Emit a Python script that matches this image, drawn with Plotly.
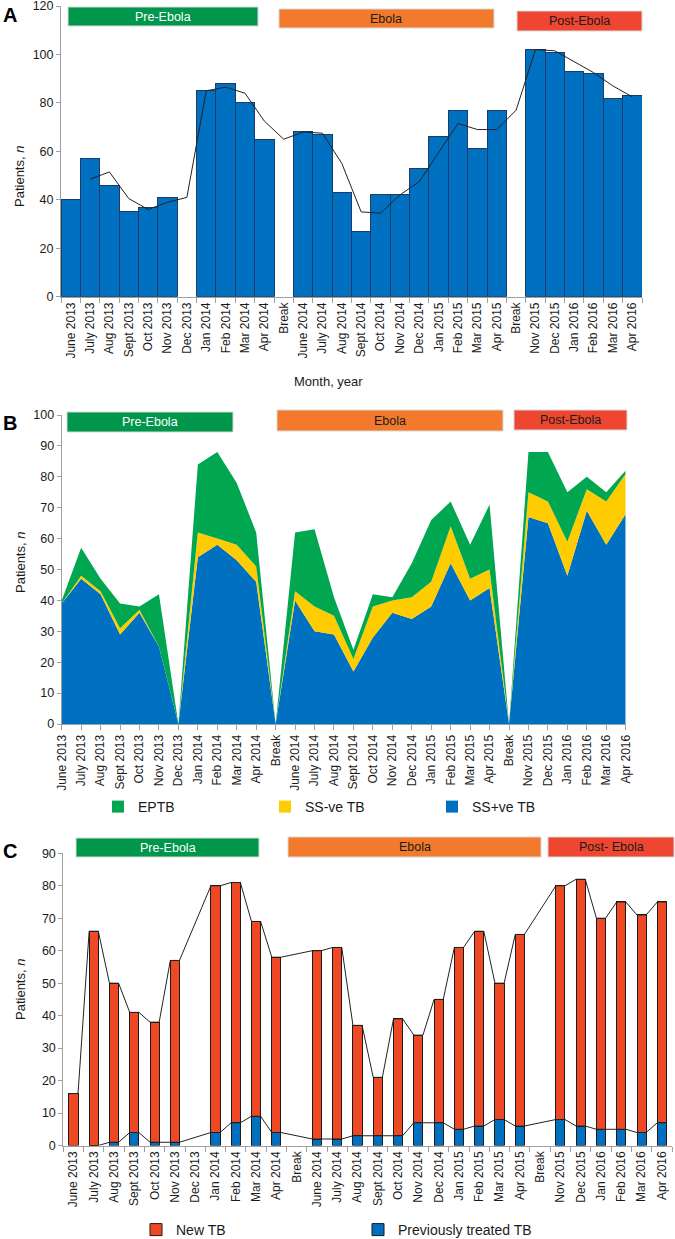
import plotly.graph_objects as go

# ---------------- data ----------------
months = ["June 2013", "July 2013", "Aug 2013", "Sept 2013", "Oct 2013", "Nov 2013", "Dec 2013",
          "Jan 2014", "Feb 2014", "Mar 2014", "Apr 2014", "Break", "June 2014", "July 2014",
          "Aug 2014", "Sept 2014", "Oct 2014", "Nov 2014", "Dec 2014", "Jan 2015", "Feb 2015",
          "Mar 2015", "Apr 2015", "Break", "Nov 2015", "Dec 2015", "Jan 2016", "Feb 2016",
          "Mar 2016", "Apr 2016"]

# Panel A: all patients per month and the trend line
patients_a = [40, 57, 46, 35, 37, 41, None, 85, 88, 80, 65, None, 68, 67, 43, 27, 42, 42, 53,
              66, 77, 61, 77, None, 102, 101, 93, 92, 82, 83]
trend_a = [None, 48.5, 51.5, 40.5, 36, 39, 41, 85, 86.5, 84, 72.5, 65, 68, 67.5, 55, 35, 34.5,
           42, 47.5, 59.5, 71.5, 69, 69, 77, 102, 101.5, 97, 92.5, 87, 82.5]

# Panel B: stacked area by TB type
ss_pos = [39, 47, 42, 29, 36, 25, 0, 54, 58, 53, 46, 0, 40, 30, 29, 17, 28, 36, 34, 38, 52, 40,
          44, 0, 67, 65, 48, 69, 58, 68]
ss_neg = [0, 1, 1, 2, 1, 0, 0, 8, 2, 5, 5, 0, 3, 8, 6, 4, 10, 4, 7, 8, 12, 7, 6, 0, 8, 7, 11, 7,
          14, 13]
eptb = [1, 9, 4, 8, 1, 17, 0, 22, 28, 20, 11, 0, 19, 25, 6, 3, 4, 1, 11, 20, 8, 11, 21, 0, 13,
        16, 16, 4, 3, 1]

# Panel C: new vs previously treated TB
prev_tb = [None, 0, 1, 4, 1, 1, None, 4, 7, 9, 4, None, 2, 2, 3, 3, 3, 7, 7, 5, 6, 8, 6, None,
           8, 6, 5, 5, 4, 7]
new_tb = [16, 66, 49, 37, 37, 56, None, 76, 74, 60, 54, None, 58, 59, 34, 18, 36, 27, 38, 56,
          60, 42, 59, None, 72, 76, 65, 70, 67, 68]

periods_ab = ["Pre-Ebola", "Ebola", "Post-Ebola"]
periods_c = ["Pre-Ebola", "Ebola", "Post- Ebola"]

ticks_a = [0, 20, 40, 60, 80, 100, 120]
ticks_b = [0, 10, 20, 30, 40, 50, 60, 70, 80, 90, 100]
ticks_c = [0, 10, 20, 30, 40, 50, 60, 70, 80, 90]

# ---------------- style ----------------
W, H = 675, 1239
FONT = "Liberation Sans, Arial, sans-serif"
TXT = "#1a1a1a"
AX = "#a0a0a0"
BLUE = "#0070C0"
YEL = "#FFCC00"
GRN = "#00A650"
RED = "#EE4824"
P_COLORS = ["#00964B", "#F37A2C", "#EE4630"]
P_TXT = ["white", TXT, TXT]
BW = 0.45


def fx(px):
    return min(1.0, max(0.0, px / W))


def fy(py):
    return min(1.0, max(0.0, 1 - py / H))


idx = list(range(len(months)))
fig = go.Figure()

# ---- Panel A ----
fig.add_trace(go.Bar(x=idx, y=patients_a, width=1,
                     marker=dict(color=BLUE, line=dict(color="#1d3b66", width=1)),
                     xaxis="x", yaxis="y", showlegend=False))
fig.add_trace(go.Scatter(x=idx, y=trend_a, mode="lines", line=dict(color="#222222", width=1),
                         xaxis="x", yaxis="y", showlegend=False))

# ---- Panel B ----
for vals, col in [(ss_pos, BLUE), (ss_neg, YEL), (eptb, GRN)]:
    fig.add_trace(go.Scatter(x=idx, y=vals, stackgroup="b", mode="lines",
                             line=dict(width=0, color=col), fillcolor=col,
                             xaxis="x2", yaxis="y2", showlegend=False))
for name, col in [("EPTB", GRN), ("SS-ve TB", YEL), ("SS+ve TB", BLUE)]:
    fig.add_trace(go.Bar(x=[None], y=[None], name=name, marker=dict(color=col, line=dict(width=0)),
                         xaxis="x2", yaxis="y2", legend="legend"))

# ---- Panel C ----
fig.add_trace(go.Bar(x=idx, y=prev_tb, width=BW, name="Previously treated TB",
                     marker=dict(color=BLUE, line=dict(color="#1a1a1a", width=1)),
                     xaxis="x3", yaxis="y3", legend="legend2"))
fig.add_trace(go.Bar(x=idx, y=new_tb, width=BW, name="New TB",
                     marker=dict(color=RED, line=dict(color="#1a1a1a", width=1)),
                     xaxis="x3", yaxis="y3", legend="legend2"))

totals_c = [None if n is None else n + (p or 0) for p, n in zip(prev_tb, new_tb)]


def series_line(vals):
    xs, ys = [], []
    for i, v in enumerate(vals):
        if v is None:
            continue
        xs += [i - BW / 2, i + BW / 2]
        ys += [v, v]
    return xs, ys


for vals in (totals_c, prev_tb):
    xs, ys = series_line(vals)
    fig.add_trace(go.Scatter(x=xs, y=ys, mode="lines", line=dict(color="#222222", width=1),
                             xaxis="x3", yaxis="y3", showlegend=False))

# ---------------- layout ----------------
tickfont_x = dict(family=FONT, size=12, color=TXT)
tickfont_y = dict(family=FONT, size=12.5, color=TXT)

common_y = dict(showline=True, linecolor=AX, linewidth=1, ticks="outside", ticklen=4,
                tickcolor=AX, showgrid=False, zeroline=False, tickfont=tickfont_y,
                automargin=False, tickmode="array", ticklabeloverflow="allow")
common_x = dict(showline=True, linecolor=AX, linewidth=1, showgrid=False, zeroline=False,
                tickmode="array", tickvals=idx, ticktext=months, tickangle=-90,
                tickfont=tickfont_x, automargin=False, ticklabeloverflow="allow")

fig.update_layout(
    template="none",
    width=W, height=H,
    margin=dict(l=0, r=0, t=0, b=0, autoexpand=False),
    paper_bgcolor="white", plot_bgcolor="white",
    barmode="stack",
    font=dict(family=FONT, color=TXT),
    xaxis=dict(domain=[fx(61), fx(642)], anchor="y", range=[-0.5, 29.5], ticks="",
               minor=dict(tick0=-0.5, dtick=1, ticks="outside", ticklen=5, tickcolor=AX),
               **common_x),
    yaxis=dict(domain=[fy(296.7), fy(6)], anchor="x", range=[0, 120], tickvals=ticks_a,
               **common_y),
    xaxis2=dict(domain=[fx(61.7), fx(625.7)], anchor="y2", range=[0, 29], ticks="outside",
                ticklen=5, tickcolor=AX, **common_x),
    yaxis2=dict(domain=[fy(724), fy(415)], anchor="x2", range=[0, 100], tickvals=ticks_b,
                **common_y),
    xaxis3=dict(domain=[fx(63.3), fx(672)], anchor="y3", range=[-0.5, 29.5], ticks="",
                minor=dict(tick0=-0.5, dtick=1, ticks="outside", ticklen=5, tickcolor=AX),
                **common_x),
    yaxis3=dict(domain=[fy(1145.5), fy(853.3)], anchor="x3", range=[0, 90], tickvals=ticks_c,
                **common_y),
    legend=dict(orientation="h", x=fx(98), y=fy(807), xanchor="left", yanchor="middle",
                entrywidth=122, traceorder="normal", bgcolor="rgba(0,0,0,0)",
                font=dict(family=FONT, size=14, color=TXT)),
    legend2=dict(orientation="h", x=fx(136), y=fy(1230), xanchor="left", yanchor="middle",
                 entrywidth=177, traceorder="reversed", bgcolor="rgba(0,0,0,0)",
                 font=dict(family=FONT, size=14, color=TXT)),
)

shapes = []
annotations = []

# period boxes (pixel boxes: x0, x1, y0, y1)
boxes = [
    (periods_ab, [(68, 258, 7, 26), (279, 494, 9, 28), (517, 642, 11, 31)]),
    (periods_ab, [(67, 233, 412, 432), (277, 503, 410, 431), (514, 627, 410, 430)]),
    (periods_c, [(76, 259, 838, 857), (288, 541, 837, 857), (548, 674, 837, 857)]),
]
for names, rects in boxes:
    for k, (name, (x0, x1, y0, y1)) in enumerate(zip(names, rects)):
        shapes.append(dict(type="rect", xref="paper", yref="paper", x0=fx(x0), x1=fx(x1),
                           y0=fy(y1), y1=fy(y0), fillcolor=P_COLORS[k],
                           line=dict(color="#d8d8d8", width=1), layer="above"))
        annotations.append(dict(xref="paper", yref="paper", x=fx((x0 + x1) / 2),
                                y=fy((y0 + y1) / 2), text=name, showarrow=False,
                                xanchor="center", yanchor="middle",
                                font=dict(family=FONT, size=12.5, color=P_TXT[k])))

# panel letters
for letter, ytop in [("A", 2), ("B", 410), ("C", 838)]:
    annotations.append(dict(xref="paper", yref="paper", x=fx(1), y=fy(ytop), text=f"<b>{letter}</b>",
                            showarrow=False, xanchor="left", yanchor="top",
                            font=dict(family=FONT, size=20, color="black")))

# y-axis titles
for yc in (177, 563, 990):
    annotations.append(dict(xref="paper", yref="paper", x=fx(20), y=fy(yc),
                            text="Patients, <i>n</i>", textangle=-90, showarrow=False,
                            xanchor="center", yanchor="middle",
                            font=dict(family=FONT, size=13, color=TXT)))

# x-axis title of panel A
annotations.append(dict(xref="paper", yref="paper", x=fx(328), y=fy(381), text="Month, year",
                        showarrow=False, xanchor="center", yanchor="middle",
                        font=dict(family=FONT, size=13, color=TXT)))

fig.update_layout(shapes=shapes, annotations=annotations)
# remove the browser's default body margin so the figure fills the window exactly
fig.write_html("out.html", config={"displayModeBar": False},
               post_script="document.body.style.margin='0';document.body.style.padding='0';"
                           "document.body.style.overflow='hidden';")
